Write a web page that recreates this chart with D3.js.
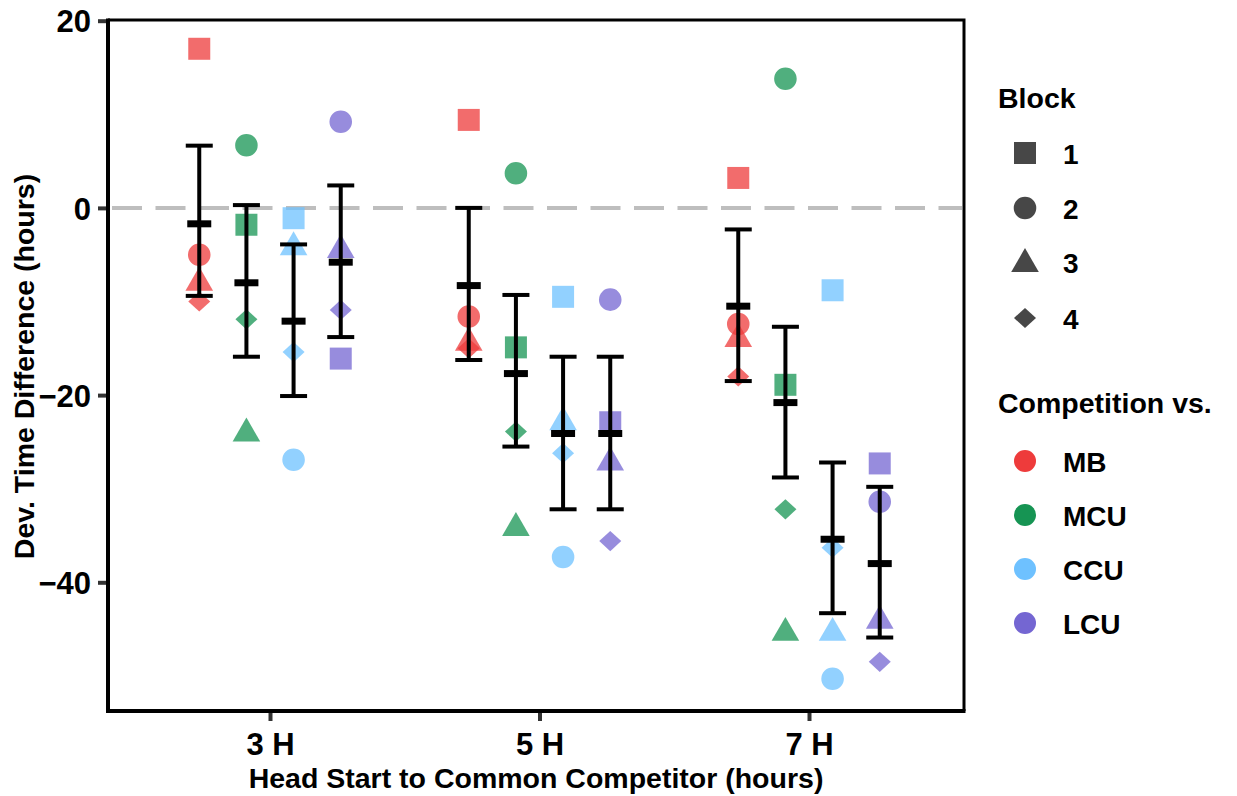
<!DOCTYPE html>
<html>
<head>
<meta charset="utf-8">
<script src="https://cdn.jsdelivr.net/npm/d3@7"></script>
<style>
  html, body { margin: 0; padding: 0; background: #fff; }
  svg { display: block; font-family: "Liberation Sans", Arial, sans-serif; font-weight: bold; }
</style>
</head>
<body>
<svg id="chart" width="1237" height="796"></svg>
<script>
// ---------------- DATA ----------------
const categories = ["3 H", "5 H", "7 H"];
const competitors = ["MB", "MCU", "CCU", "LCU"];
const blocks = ["1", "2", "3", "4"];
const yTicks = [-40, -20, 0, 20];

// values ordered: for each head start (3H,5H,7H) -> MB, MCU, CCU, LCU
const block1Values = [17.0, -1.8, -1.1, -16.1,   9.4, -14.9, -9.5, -22.9,   3.2, -18.9, -8.8, -27.3];
const block2Values = [-5.0, 6.7, -26.9, 9.2,   -11.6, 3.7, -37.3, -9.8,   -12.4, 13.8, -50.3, -31.4];
const block3Values = [-8.0, -24.1, -4.2, -4.5,   -14.4, -34.2, -22.9, -27.2,   -14.0, -45.4, -45.4, -44.1];
const block4Values = [-10.0, -11.9, -15.4, -10.9,   -15.0, -23.9, -26.2, -35.6,   -18.0, -32.2, -36.3, -48.5];

const meanValues  = [-1.7, -8.0, -12.1, -5.8,   -8.3, -17.7, -24.1, -24.1,   -10.5, -20.8, -35.4, -38.0];
const lowerValues = [-9.4, -15.9, -20.1, -13.8,   -16.25, -25.5, -32.2, -32.2,   -18.5, -28.8, -43.3, -45.9];
const upperValues = [6.65, 0.3, -3.9, 2.4,   0.0, -9.3, -15.9, -15.9,   -2.3, -12.7, -27.2, -29.8];

const competitorColors = ["#EE3B3B", "#169453", "#6EC1FF", "#7466D2"];

// ---------------- LAYOUT ----------------
const svg = d3.select("#chart");
const W = 1237, H = 796;
const panel = { left: 108, right: 964, top: 20, bottom: 711 };
const FONT = "Liberation Sans, Arial, sans-serif";

const x = d3.scaleLinear().domain([1, 3]).range([270, 809]);
const y = d3.scaleLinear().domain([-40, 20]).range([582.3, 20.7]);
const dodge = d3.scaleBand().domain(competitors).range([-0.35, 0.35]);
const dodgeX = c => dodge(c) + dodge.bandwidth() / 2;

const color = d3.scaleOrdinal().domain(competitors).range(competitorColors);

// custom diamond (ggplot shape 18 style)
const ggDiamond = {
  draw(ctx, size) {
    const r = Math.sqrt(size) / 2;
    const rx = r * 1.0, ry = r * 0.92;
    ctx.moveTo(0, -ry); ctx.lineTo(rx, 0); ctx.lineTo(0, ry); ctx.lineTo(-rx, 0); ctx.closePath();
  }
};
const shapeTypes = [d3.symbolSquare, d3.symbolCircle, d3.symbolTriangle, ggDiamond];
const shapeSizes = [484, 400, 330, 484];
const blockShape = d3.scaleOrdinal().domain(blocks).range(shapeTypes);
const blockSize = d3.scaleOrdinal().domain(blocks).range(shapeSizes);

// build point records
const blockArrays = [block1Values, block2Values, block3Values, block4Values];
const points = [];
blocks.forEach((b, bi) => {
  blockArrays[bi].forEach((v, i) => {
    const g = Math.floor(i / 4), c = competitors[i % 4];
    points.push({ block: b, group: g, comp: c, value: v });
  });
});
const summaries = meanValues.map((m, i) => ({
  group: Math.floor(i / 4), comp: competitors[i % 4], mean: m, lo: lowerValues[i], hi: upperValues[i]
}));

svg.append("rect").attr("width", W).attr("height", H).attr("fill", "#fff");

// zero line
svg.append("line")
  .attr("x1", panel.left + 4).attr("x2", panel.right - 2)
  .attr("y1", y(0)).attr("y2", y(0))
  .attr("stroke", "#BEBEBE").attr("stroke-width", 4)
  .attr("stroke-dasharray", "30 13.5");

// points
svg.append("g").selectAll("path").data(points).join("path")
  .attr("transform", d => `translate(${x(d.group + 1 + dodgeX(d.comp))},${y(d.value)})`)
  .attr("d", d => d3.symbol().type(blockShape(d.block)).size(blockSize(d.block))())
  .attr("fill", d => color(d.comp))
  .attr("fill-opacity", 0.75);

// error bars
const eb = svg.append("g");
summaries.forEach(s => {
  const cx = x(s.group + 1 + dodgeX(s.comp));
  eb.append("line").attr("x1", cx).attr("x2", cx).attr("y1", y(s.hi)).attr("y2", y(s.lo))
    .attr("stroke", "#000").attr("stroke-width", 4);
  [s.hi, s.lo].forEach(v => {
    eb.append("line").attr("x1", cx - 13.5).attr("x2", cx + 13.5).attr("y1", y(v)).attr("y2", y(v))
      .attr("stroke", "#000").attr("stroke-width", 4);
  });
  eb.append("line").attr("x1", cx - 12).attr("x2", cx + 12).attr("y1", y(s.mean)).attr("y2", y(s.mean))
    .attr("stroke", "#000").attr("stroke-width", 7);
});

// panel border (top & right)
svg.append("path")
  .attr("d", `M${panel.left},${panel.top}H${panel.right}V${panel.bottom}`)
  .attr("fill", "none").attr("stroke", "#000").attr("stroke-width", 3);

// y axis
const yAxis = d3.axisLeft(y).tickValues(yTicks).tickSize(10).tickPadding(7).tickFormat(d3.format("d"));
const gy = svg.append("g").attr("transform", `translate(${panel.left},0)`).call(yAxis);
gy.select(".domain").remove();
gy.selectAll(".tick line").attr("stroke", "#333").attr("stroke-width", 4);
gy.selectAll(".tick text").attr("fill", "#000").attr("font-size", 31).attr("font-weight", "bold")
  .attr("font-family", FONT).attr("dy", "0.36em");
svg.append("line").attr("x1", panel.left).attr("x2", panel.left)
  .attr("y1", panel.top - 1.5).attr("y2", panel.bottom + 2)
  .attr("stroke", "#000").attr("stroke-width", 4);

// x axis
const xAxis = d3.axisBottom(x).tickValues([1, 2, 3]).tickSize(10).tickPadding(12)
  .tickFormat((d, i) => categories[i]);
const gx = svg.append("g").attr("transform", `translate(0,${panel.bottom})`).call(xAxis);
gx.select(".domain").remove();
gx.selectAll(".tick line").attr("stroke", "#333").attr("stroke-width", 4);
gx.selectAll(".tick text").attr("fill", "#000").attr("font-size", 31).attr("font-weight", "bold")
  .attr("font-family", FONT);
svg.append("line").attr("x1", panel.left - 2).attr("x2", panel.right + 1.5)
  .attr("y1", panel.bottom).attr("y2", panel.bottom)
  .attr("stroke", "#000").attr("stroke-width", 4);

// axis titles
svg.append("text").attr("x", 536).attr("y", 788)
  .attr("text-anchor", "middle").attr("font-size", 28.5).text("Head Start to Common Competitor (hours)");
svg.append("text").attr("transform", `translate(34,${(panel.top + panel.bottom) / 2 + 1}) rotate(-90)`)
  .attr("text-anchor", "middle").attr("font-size", 28.5).text("Dev. Time Difference (hours)");

// legends
const lg = svg.append("g");
lg.append("text").attr("x", 998).attr("y", 108).attr("font-size", 28.5).text("Block");
const blockY = [153, 208, 262, 318];
blocks.forEach((b, i) => {
  const yy = blockY[i] + (i === 2 ? 2 : 0);
  lg.append("path").attr("transform", `translate(1025,${yy})`)
    .attr("d", d3.symbol().type(blockShape(b)).size(blockSize(b))())
    .attr("fill", "#474747");
  lg.append("text").attr("x", 1063).attr("y", blockY[i] + 1).attr("dy", "0.36em").attr("font-size", 28).text(b);
});
lg.append("text").attr("x", 998).attr("y", 413).attr("font-size", 28.5).text("Competition vs.");
const compY = [461, 515, 569, 623];
competitors.forEach((c, i) => {
  lg.append("circle").attr("cx", 1025).attr("cy", compY[i]).attr("r", 11).attr("fill", color(c));
  lg.append("text").attr("x", 1063).attr("y", compY[i] + 1).attr("dy", "0.36em").attr("font-size", 28).text(c);
});
</script>
</body>
</html>
